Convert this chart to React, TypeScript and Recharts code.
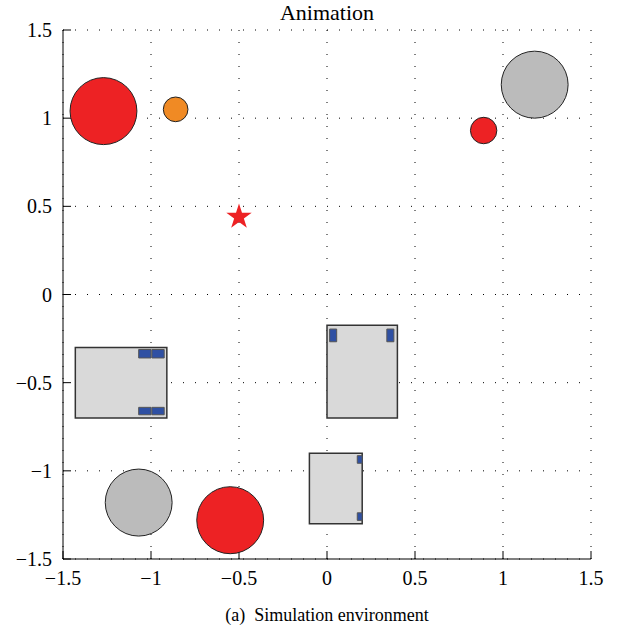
import {
  ScatterChart,
  Scatter,
  XAxis,
  YAxis,
  CartesianGrid,
  ReferenceArea,
  Symbols,
} from "recharts";

const TICKS = [-1.5, -1, -0.5, 0, 0.5, 1, 1.5];

// obstacles / targets (circles), data units
const circleX = [-1.27, -0.86, 0.89, 1.18, -1.07, -0.55];
const circleY = [1.04, 1.05, 0.93, 1.19, -1.18, -1.28];
const circleR = [0.19, 0.07, 0.075, 0.19, 0.19, 0.19];
const circleColor = ["#ed2224", "#f08a24", "#ed2224", "#bbbbbb", "#bbbbbb", "#ed2224"];

// goal star
const starX = [-0.5];
const starY = [0.44];

// robots (grey boxes)
const boxX1 = [-1.43, 0, -0.1];
const boxX2 = [-0.91, 0.4, 0.2];
const boxY1 = [-0.7, -0.7, -1.3];
const boxY2 = [-0.3, -0.175, -0.9];

// wheels (blue)
const wheelX1 = [-1.07, -0.995, -1.07, -0.995, 0.015, 0.34, 0.172, 0.172];
const wheelX2 = [-1.0, -0.925, -1.0, -0.925, 0.055, 0.38, 0.2, 0.2];
const wheelY1 = [-0.36, -0.36, -0.682, -0.682, -0.268, -0.268, -0.957, -1.281];
const wheelY2 = [-0.312, -0.312, -0.64, -0.64, -0.196, -0.196, -0.914, -1.238];

const W = 617;
const H = 632;
const PLOT_W = 528;
const PLOT_H = 529;
const SPAN = 3;

const SERIF = "'Liberation Serif', 'Times New Roman', 'DejaVu Serif', serif";

const fmt = (v: number) => String(v).replace("-", "\u2212");

const circles = circleX.map((x, i) => ({
  x,
  y: circleY[i],
  r: circleR[i],
  fill: circleColor[i],
}));
const stars = starX.map((x, i) => ({ x, y: starY[i] }));

function Disc(props: any) {
  const { cx, cy, payload } = props;
  return (
    <ellipse
      cx={cx}
      cy={cy}
      rx={(payload.r * PLOT_W) / SPAN}
      ry={(payload.r * PLOT_H) / SPAN}
      fill={payload.fill}
      stroke="#222"
      strokeWidth={1}
    />
  );
}

function Star(props: any) {
  const { cx, cy } = props;
  return <Symbols cx={cx} cy={cy} type="star" size={200} fill="#ed2224" stroke="none" />;
}

function XTick(props: any) {
  const { x, y, payload } = props;
  return (
    <text x={x} y={y} dy={14} textAnchor="middle" fill="#000" fontFamily={SERIF} fontSize={20}>
      {fmt(payload.value)}
    </text>
  );
}

function YTick(props: any) {
  const { x, y, payload } = props;
  return (
    <text x={x} y={y} dy={7} textAnchor="end" fill="#000" fontFamily={SERIF} fontSize={20}>
      {fmt(payload.value)}
    </text>
  );
}

export default function App() {
  return (
    <div
      style={{
        position: "absolute",
        left: 0,
        top: 0,
        width: W,
        height: H,
        background: "#fff",
        fontFamily: SERIF,
      }}
    >
      <ScatterChart width={W} height={H} margin={{ top: 30, right: 26, bottom: 0, left: 0 }}>
        <CartesianGrid stroke="#000" strokeDasharray="1 11" />
        <XAxis
          type="number"
          dataKey="x"
          domain={[-1.5, 1.5]}
          ticks={TICKS}
          height={73}
          tickSize={-8}
          tickMargin={20}
          tick={<XTick />}
          stroke="#000"
          allowDataOverflow
        />
        <XAxis
          xAxisId="top"
          orientation="top"
          type="number"
          domain={[-1.5, 1.5]}
          ticks={TICKS}
          height={0}
          tickSize={-8}
          tick={false}
          stroke="#000"
        />
        <YAxis
          type="number"
          dataKey="y"
          domain={[-1.5, 1.5]}
          ticks={TICKS}
          width={63}
          tickSize={-8}
          tickMargin={19}
          tick={<YTick />}
          stroke="#000"
          allowDataOverflow
        />
        <YAxis
          yAxisId="right"
          orientation="right"
          type="number"
          domain={[-1.5, 1.5]}
          ticks={TICKS}
          width={0}
          tickSize={-8}
          tick={false}
          stroke="#000"
        />
        {boxX1.map((x1, i) => (
          <ReferenceArea
            key={"b" + i}
            x1={x1}
            x2={boxX2[i]}
            y1={boxY1[i]}
            y2={boxY2[i]}
            fill="#d9d9d9"
            fillOpacity={1}
            stroke="#333"
            strokeWidth={1.5}
          />
        ))}
        {wheelX1.map((x1, i) => (
          <ReferenceArea
            key={"w" + i}
            x1={x1}
            x2={wheelX2[i]}
            y1={wheelY1[i]}
            y2={wheelY2[i]}
            fill="#2f50a3"
            fillOpacity={1}
            stroke="#555"
            strokeWidth={1}
          />
        ))}
        <Scatter data={circles} shape={<Disc />} isAnimationActive={false} />
        <Scatter data={stars} shape={<Star />} isAnimationActive={false} />
      </ScatterChart>
      <div
        style={{
          position: "absolute",
          zIndex: 2,
          left: 63,
          width: PLOT_W,
          top: 0,
          textAlign: "center",
          fontSize: 22,
          lineHeight: "26px",
        }}
      >
        Animation
      </div>
      <div
        style={{
          position: "absolute",
          zIndex: 2,
          left: 63,
          width: PLOT_W,
          top: 603,
          textAlign: "center",
          fontSize: 18,
          lineHeight: "24px",
        }}
      >
        (a)&nbsp; Simulation environment
      </div>
    </div>
  );
}
